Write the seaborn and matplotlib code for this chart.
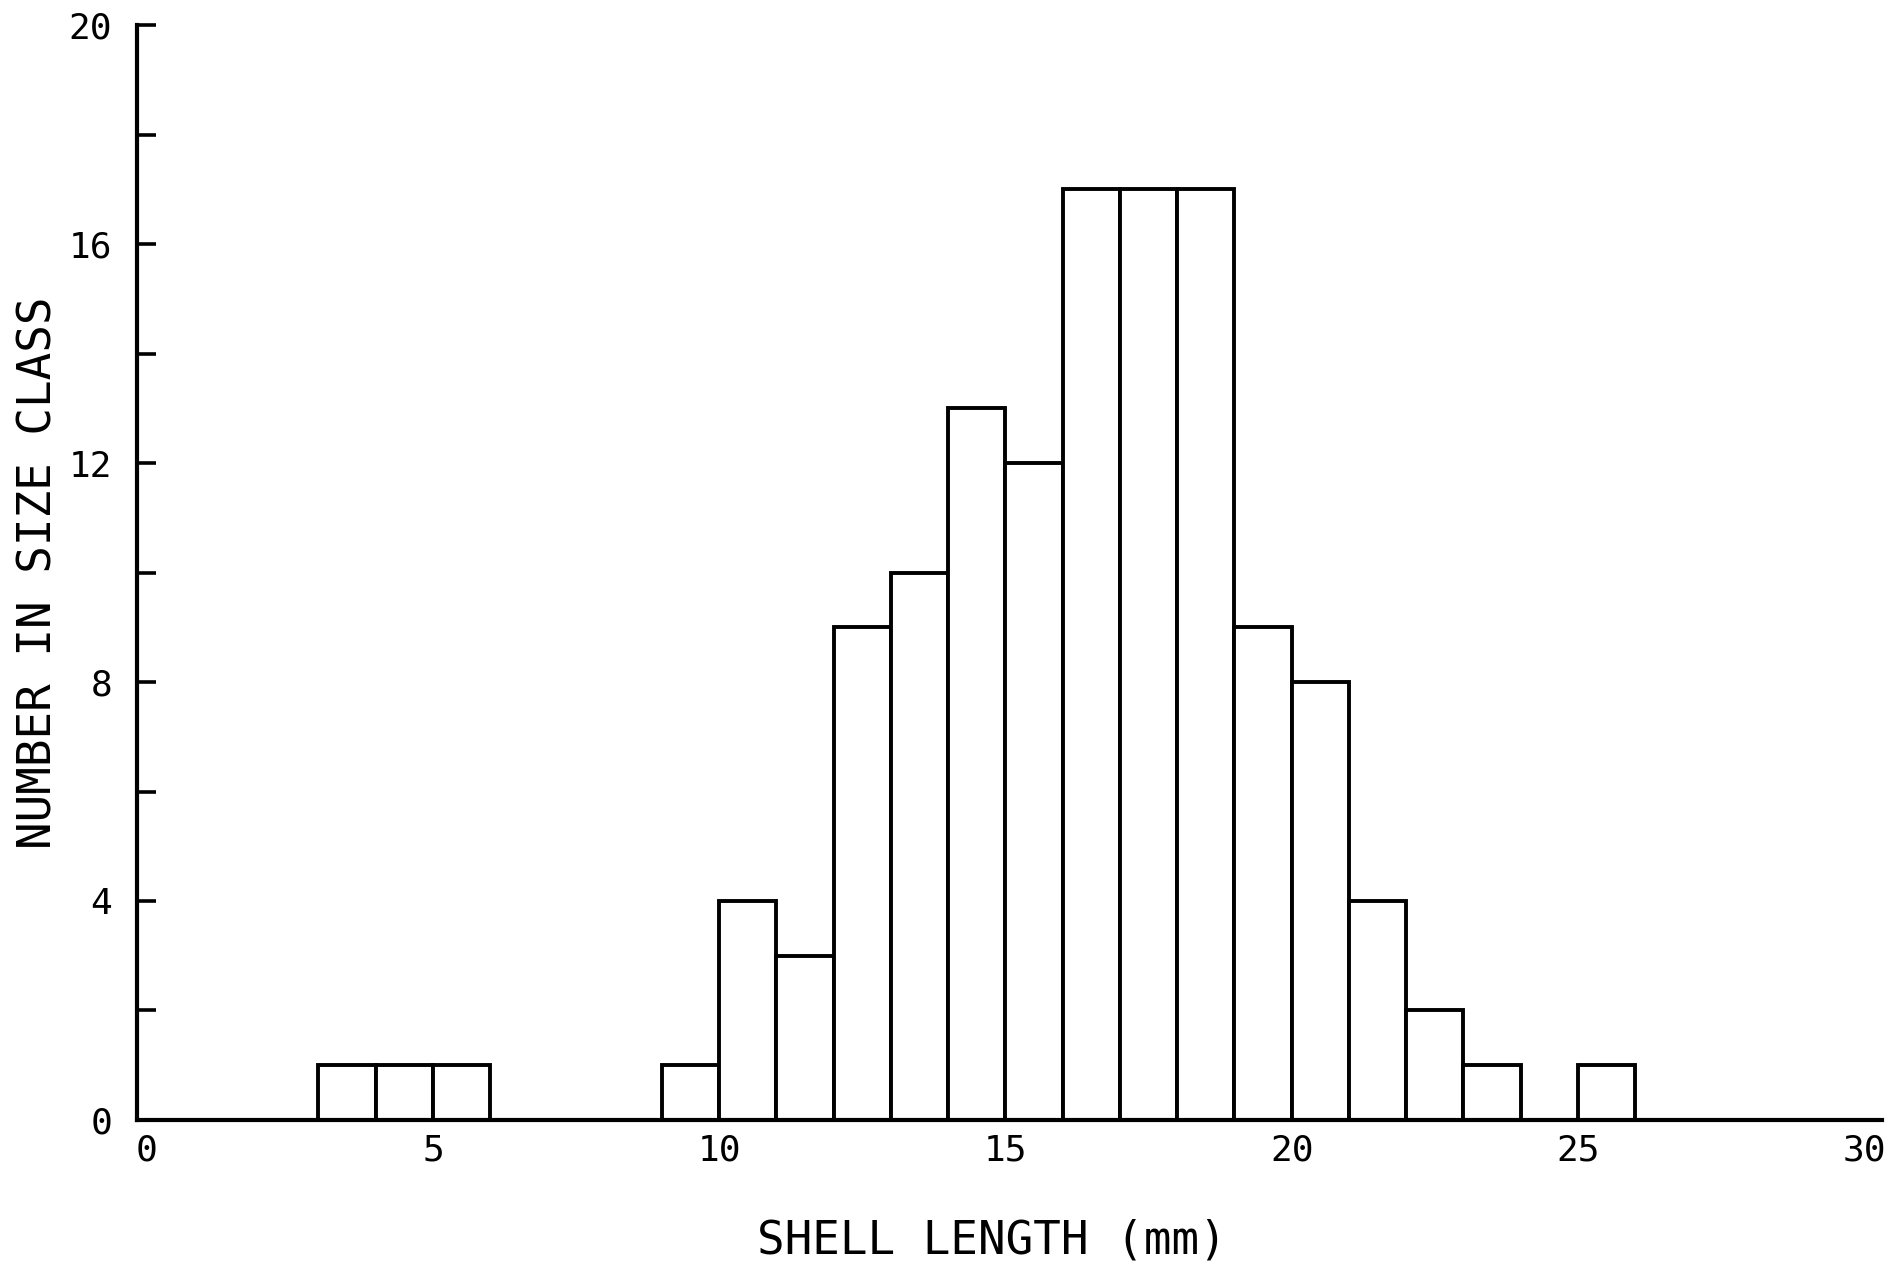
import numpy as np
import matplotlib
matplotlib.use('Agg')
import matplotlib.pyplot as plt
import seaborn as sns

# Shell length size classes (left edge of each 1 mm bin) and counts
bin_start = [3, 4, 5, 9, 10, 11, 12, 13, 14, 15, 16, 17, 18, 19, 20, 21, 22, 23, 25]
counts = [1, 1, 1, 1, 4, 3, 9, 10, 13, 12, 17, 17, 17, 9, 8, 4, 2, 1, 1]
x_ticks = [0, 5, 10, 15, 20, 25, 30]
y_ticks = [0, 4, 8, 12, 16, 20]

sns.set_style('ticks', {'text.color': 'black', 'axes.labelcolor': 'black',
                        'xtick.color': 'black', 'ytick.color': 'black',
                        'axes.edgecolor': 'black'})
plt.rcParams['font.family'] = ['DejaVu Sans Mono', 'DejaVu Sans']

fig = plt.figure(figsize=(18.9, 12.64), dpi=100)
ax = fig.add_axes([0.0725, 0.114, 0.9235, 0.866])

mids = [b + 0.5 for b in bin_start]
sns.histplot(x=mids, weights=counts, binwidth=1, binrange=(3, 26),
             color='white', edgecolor='black', linewidth=2.8, alpha=1, ax=ax)

ax.set_xlim(-0.17, 30.32)
ax.set_ylim(0, 20)

# x axis: labels only, single tick at the right end
ax.set_xticks(x_ticks)
ax.set_xticklabels([str(t) for t in x_ticks], fontsize=26)
ax.tick_params(axis='x', length=0, pad=10)
ax.set_xticks([30], minor=True)
ax.tick_params(axis='x', which='minor', direction='in', length=14, width=2.4)

# y axis: inward ticks every 2, labels every 4
minor_y = np.arange(0, 21, 2)
ax.set_yticks(minor_y)
ax.set_yticklabels([str(int(t)) if t in y_ticks else '' for t in minor_y],
                   fontsize=26)
ax.tick_params(axis='y', direction='in', length=14, width=2.6, pad=18)

for side in ['top', 'right']:
    ax.spines[side].set_visible(False)
for side in ['left', 'bottom']:
    ax.spines[side].set_linewidth(3)

ax.set_xlabel('SHELL LENGTH (mm)', fontsize=33)
ax.set_ylabel('NUMBER IN SIZE CLASS', fontsize=33)
ax.xaxis.set_label_coords(0.49, -0.1105)
ax.xaxis.label.set_va('center')
ax.yaxis.set_label_coords(-0.056, 0.5)
ax.yaxis.label.set_va('center')

plt.savefig('out.png', dpi=100)
